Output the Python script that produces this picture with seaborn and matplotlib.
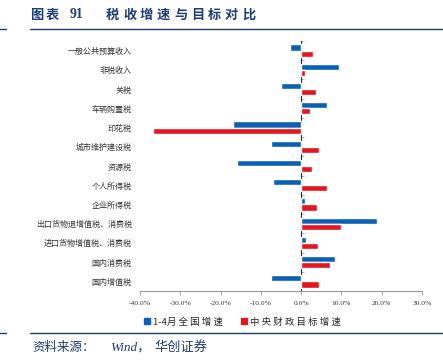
import numpy as np
import pandas as pd
import matplotlib
matplotlib.use("Agg")
import matplotlib.pyplot as plt
import seaborn as sns
from matplotlib.ticker import FuncFormatter
from matplotlib.lines import Line2D

categories = ["一般公共预算收入", "非税收入", "关税", "车辆购置税", "印花税", "城市维护建设税",
              "资源税", "个人所得税", "企业所得税", "出口货物退增值税、消费税",
              "进口货物增值税、消费税", "国内消费税", "国内增值税"]
growth_jan_apr = [-2.7, 9.5, -5.1, 6.3, -17.0, -7.5, -16.0, -7.0, 1.0, 18.8, 1.1, 8.3, -7.5]
central_target = [3.0, 1.0, 3.8, 2.2, -36.7, 4.4, 2.6, 6.4, 4.0, 10.0, 4.1, 7.1, 4.4]
series_names = ["1-4月全国增速", "中央财政目标增速"]
x_ticks = [-40, -30, -20, -10, 0, 10, 20, 30]

df = pd.DataFrame({
    "cat": categories * 2,
    "val": growth_jan_apr + central_target,
    "series": [series_names[0]] * len(categories) + [series_names[1]] * len(categories),
})

sns.set_style("white")
plt.rcParams["font.family"] = ["Noto Sans CJK SC", "DejaVu Sans"]

blue = "#0b5fb5"
red = "#e5141f"
navy = "#1d3f72"

fig = plt.figure(figsize=(4.43, 3.61), dpi=100)
ax = fig.add_axes([140 / 443, 1 - 291 / 361, 282 / 443, 250 / 361])

sns.barplot(data=df, y="cat", x="val", hue="series", orient="h",
            palette=[blue, red], width=0.64, saturation=1, ax=ax, legend=False)

ax.set_xlim(-40, 30)
ax.set_xticks(x_ticks)
ax.xaxis.set_major_formatter(FuncFormatter(lambda v, p: f"{v:.1f}%".replace("\u2212", "-")))
for lbl in ax.get_xticklabels():
    lbl.set_fontfamily("Liberation Serif")
    lbl.set_fontsize(5.4)
    lbl.set_color("#333333")
ax.tick_params(axis="x", length=3, width=0.6, color="#9a9a9a", pad=4, bottom=True)
ax.tick_params(axis="y", length=0, labelsize=5.8, labelcolor="#333333", pad=6)
ax.set_xlabel("")
ax.set_ylabel("")
for s in ["top", "right", "left"]:
    ax.spines[s].set_visible(False)
ax.spines["bottom"].set_color("#9a9a9a")
ax.spines["bottom"].set_linewidth(0.8)

# zero axis with category separators
zero_frac = (0 - (-40)) / 70
sec = ax.secondary_yaxis(zero_frac)
sec.set_yticks(np.arange(-0.5, len(categories) + 0.5, 1))
sec.set_yticklabels([])
sec.tick_params(axis="y", length=2, width=0.5, color="#9a9a9a", direction="out")
sec.spines["left"].set_color("#9a9a9a")
sec.spines["left"].set_linewidth(0.8)

handles = [Line2D([], [], marker="s", linestyle="", color=blue, markersize=4),
           Line2D([], [], marker="s", linestyle="", color=red, markersize=4)]
legend_labels = ["1-4月全国增速".replace("月", "月 ").replace("全国增速", "全 国 增 速"),
                 " ".join(series_names[1])]
fig.legend(handles, legend_labels, loc="center", bbox_to_anchor=(242 / 443, 1 - 322 / 361),
           ncol=2, frameon=False, fontsize=6.8, handletextpad=0.3, columnspacing=1.8,
           handlelength=0.8)


def spaced_text(x0, y, s, step, **kw):
    for i, ch in enumerate(s):
        fig.text((x0 + i * step) / 443, 1 - y / 361, ch, va="center", ha="left", **kw)


# title and footer
spaced_text(30, 15, "图表", 15.5, fontsize=9.5, fontweight="bold", color=navy)
fig.text(70 / 443, 1 - 15 / 361, "91", fontsize=10, fontweight="bold", color=navy,
         fontfamily="Liberation Serif", va="center", ha="left")
spaced_text(106, 15, "税收增速与目标对比", 17, fontsize=9.5, fontweight="bold", color=navy)
for yy in [29, 333]:
    fig.add_artist(Line2D([30 / 443, 1], [1 - yy / 361] * 2, color=navy, lw=1.0))
    fig.add_artist(Line2D([0, 6 / 443], [1 - yy / 361] * 2, color=navy, lw=1.0))
fig.text(32 / 443, 1 - 347 / 361, "资料来源：", fontsize=9, color=navy, va="center", ha="left")
fig.text(110 / 443, 1 - 347 / 361, "Wind，", fontsize=9.5, style="italic", color=navy,
         fontfamily=["Liberation Serif", "Noto Sans CJK SC"], va="center", ha="left")
fig.text(154 / 443, 1 - 347 / 361, "华创证券", fontsize=9.5, color=navy, va="center", ha="left")

fig.savefig("out.png", dpi=100)
